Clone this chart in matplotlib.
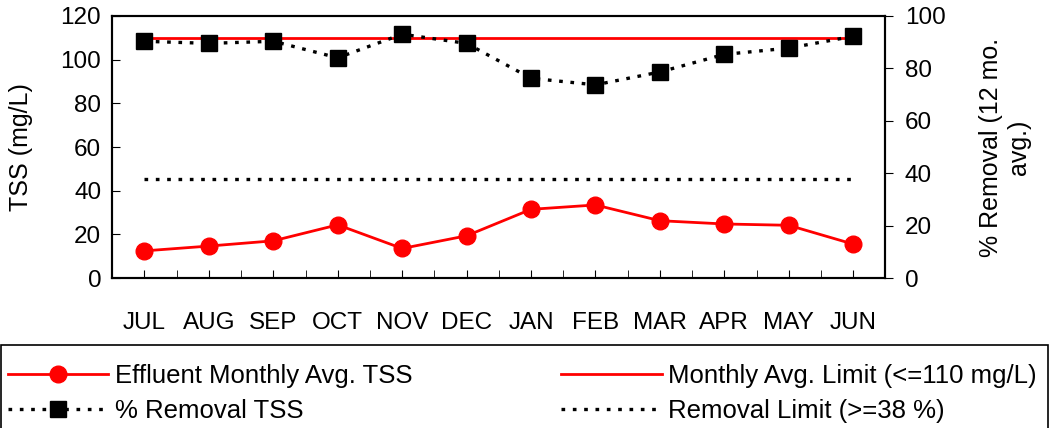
import numpy as np
import matplotlib.pyplot as plt
from matplotlib.patches import Rectangle

plt.rcParams['font.family'] = ['Liberation Sans', 'DejaVu Sans']

# dados
meses = ['JUL', 'AUG', 'SEP', 'OCT', 'NOV', 'DEC', 'JAN', 'FEB', 'MAR', 'APR', 'MAY', 'JUN']
tss_efluente = [12.5, 14.7, 17.1, 24.4, 13.6, 19.4, 31.5, 33.5, 26.3, 24.8, 24.2, 15.6]
remocao_pct = [90.3, 89.5, 90.3, 84.0, 93.0, 89.5, 76.2, 73.7, 78.6, 85.3, 87.7, 92.2]
limite_mensal = 110
limite_remocao = 38

x = np.arange(len(meses))
dPontilhado = (0, (1.1, 2.3))  # padrão do tracejado

fig = plt.figure(figsize=(10.49, 4.28), dpi=100)
ax = fig.add_axes([0.107, 0.35, 0.737, 0.613])

# limite mensal (eixo esquerdo)
hLim, = ax.plot([x[0], x[-1]], [limite_mensal, limite_mensal], color='#ff0000', lw=2,
                label='Monthly Avg. Limit (<=110 mg/L)')
hEff, = ax.plot(x, tss_efluente, color='#ff0000', lw=2, marker='o', ms=12,
                label='Effluent Monthly Avg. TSS')
ax.set_xlim(-0.5, len(meses) - 0.5)
ax.set_ylim(0, 120)
ax.set_yticks(np.arange(0, 121, 20))
ax.set_xticks(x)
ax.set_xticklabels(meses)
ax.set_xticks(x + 0.5, minor=True)
ax.tick_params(axis='x', which='both', direction='in', length=6, labelsize=17.5, pad=24)
ax.tick_params(axis='y', direction='in', length=6, labelsize=17.5, pad=8)
ax.set_ylabel('TSS (mg/L)', fontsize=18, labelpad=20)
for s in ax.spines.values():
    s.set_linewidth(1.5)

# % remoção (eixo direito)
ax2 = ax.twinx()
hRemLim, = ax2.plot([x[0], x[-1]], [limite_remocao, limite_remocao], color='black', lw=2.4,
                    ls=dPontilhado, label='Removal Limit (>=38 %)')
hRem, = ax2.plot(x, remocao_pct, color='black', lw=2.4, ls=dPontilhado, marker='s', ms=12,
                 label='% Removal TSS')
ax2.set_ylim(0, 100)
ax2.set_yticks(np.arange(0, 101, 20))
ax2.tick_params(axis='y', direction='out', length=6, labelsize=17.5, pad=8)
ax2.set_ylabel('% Removal (12 mo.\navg.)', fontsize=18, labelpad=24)
for s in ax2.spines.values():
    s.set_linewidth(1.5)

# moldura da legenda ocupando toda a largura
fig.patches.append(Rectangle((0.0005, -0.01), 0.999, 0.204, transform=fig.transFigure,
                             fill=False, edgecolor='black', lw=1.2))

# legenda embaixo, duas colunas
leg = fig.legend([hEff, hRem, hLim, hRemLim],
                 [h.get_label() for h in [hEff, hRem, hLim, hRemLim]],
                 loc='upper left', bbox_to_anchor=(0.003, 0.162),
                 ncol=2, fontsize=18.5, frameon=False,
                 handlelength=3.9, handletextpad=0.25, borderaxespad=0, labelspacing=0.45,
                 columnspacing=5.8, borderpad=0.2)

fig.savefig('out.png', dpi=100)
